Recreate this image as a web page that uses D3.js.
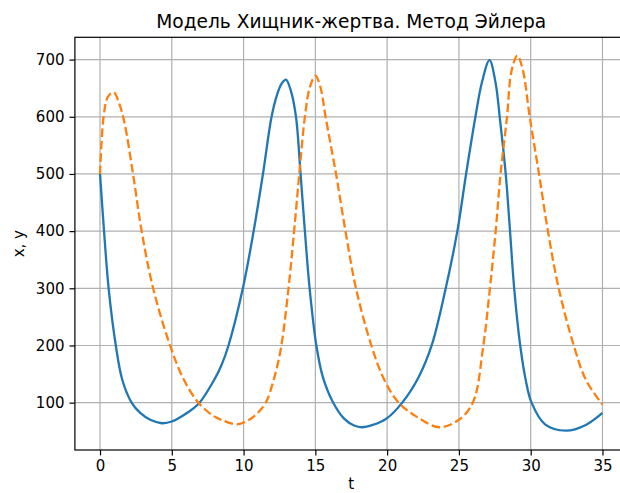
<!DOCTYPE html>
<html>
<head>
<meta charset="utf-8">
<script src="https://cdn.jsdelivr.net/npm/d3@7"></script>
<style>
  html, body { margin: 0; padding: 0; background: #fff; }
  svg { display: block; overflow: hidden; }
  text { font-family: "DejaVu Sans", sans-serif; fill: #000; }
</style>
</head>
<body>
<svg id="chart" width="620" height="493"></svg>
<script>
// prey (x) - solid blue
var tPrey = [0, 0.28, 0.6, 1.1, 1.55, 2.2, 2.8, 3.5, 4.3, 5, 6, 6.9, 8, 8.45, 8.95, 9.95,
  10.7, 11.35, 11.95, 12.35, 12.65, 12.95, 13.3, 13.65, 13.97, 14.27, 14.6, 15.07, 15.52, 16.2,
  17, 17.7, 18.23, 19, 20, 21.05, 22.2, 23.1, 24.08, 24.89, 25.5, 26.15, 26.6, 27.13,
  27.55, 27.84, 28.26, 28.56, 28.85, 29.27, 29.65, 30.06, 31, 32.45, 33.84, 35];
var xPrey = [500, 400, 300, 200, 140, 100, 82, 70, 64, 67, 81, 99, 142, 165, 200, 300,
  400, 500, 600, 640, 658, 665, 645, 600, 500, 400, 300, 200, 145, 102,
  72, 60, 57, 61, 73, 100, 145, 200, 300, 400, 500, 600, 660, 699,
  660, 600, 500, 400, 300, 200, 140, 100, 62, 51, 61, 82];

// predator (y) - dashed orange
var tPred = [0, 0.25, 0.55, 0.95, 1.35, 1.7, 2.3, 2.9, 3.7, 4.88, 5.84, 6.85, 7.83, 8.45,
  9.55, 10.5, 11.1, 11.6, 12.1, 12.6, 13.13, 13.52, 13.88, 14.27, 14.6, 15.0, 15.35, 15.71,
  16.44, 17.1, 17.83, 18.9, 19.8, 20.8, 22.02, 23.62, 25.05, 26.0, 26.7, 27.16, 27.56,
  27.9, 28.35, 28.67, 29.07, 29.45, 29.93, 30.58, 31.2, 31.95, 33.0, 33.84, 34.9, 35];
var yPred = [500, 600, 635, 643, 622, 590, 500, 400, 300, 200, 140, 100, 78, 70,
  62, 72, 85, 103, 140, 195, 300, 400, 500, 600, 650, 672, 652, 600,
  500, 400, 300, 200, 140, 100, 76, 57, 71, 102, 200, 300, 400,
  500, 600, 681, 707, 682, 600, 500, 400, 300, 200, 140, 100, 97];

var xTicks = [0, 5, 10, 15, 20, 25, 30, 35];
var yTicks = [100, 200, 300, 400, 500, 600, 700];

var title = "Модель Хищник-жертва. Метод Эйлера";
var xLabel = "t";
var yLabel = "x, y";

var plotLeft = 74.9, plotRight = 627.6, plotTop = 37.3, plotBottom = 450;

var svg = d3.select("#chart");

var xScale = d3.scaleLinear().domain([-1.75, 36.75]).range([plotLeft, plotRight]);
var yScale = d3.scaleLinear().domain([17.2, 739]).range([plotBottom, plotTop]);

// grid
svg.append("g")
    .selectAll("line")
    .data(xTicks)
    .enter().append("line")
    .attr("x1", function(d) { return xScale(d); })
    .attr("x2", function(d) { return xScale(d); })
    .attr("y1", plotTop)
    .attr("y2", plotBottom)
    .attr("stroke", "#b0b0b0")
    .attr("stroke-width", 1.2);

svg.append("g")
    .selectAll("line")
    .data(yTicks)
    .enter().append("line")
    .attr("x1", plotLeft)
    .attr("x2", plotRight)
    .attr("y1", function(d) { return yScale(d); })
    .attr("y2", function(d) { return yScale(d); })
    .attr("stroke", "#b0b0b0")
    .attr("stroke-width", 1.2);

var line = d3.line()
    .x(function(d) { return xScale(d[0]); })
    .y(function(d) { return yScale(d[1]); })
    .curve(d3.curveCatmullRom.alpha(0.5));

svg.append("path")
    .datum(d3.zip(tPrey, xPrey))
    .attr("d", line)
    .attr("fill", "none")
    .attr("stroke", "#1f77b4")
    .attr("stroke-width", 2.3);

svg.append("path")
    .datum(d3.zip(tPred, yPred))
    .attr("d", line)
    .attr("fill", "none")
    .attr("stroke", "#ff7f0e")
    .attr("stroke-width", 2.3)
    .attr("stroke-dasharray", "8.6,3.7");

// axes
var xAxis = d3.axisBottom(xScale).tickValues(xTicks).tickSizeOuter(0).tickSize(5.4).tickPadding(5);
var yAxis = d3.axisLeft(yScale).tickValues(yTicks).tickSizeOuter(0).tickSize(5.4).tickPadding(5);

var gx = svg.append("g").attr("transform", "translate(0," + plotBottom + ")").call(xAxis);
var gy = svg.append("g").attr("transform", "translate(" + plotLeft + ",0)").call(yAxis);

[gx, gy].forEach(function(g) {
    g.select(".domain").remove();
    g.selectAll(".tick line").attr("stroke", "#000").attr("stroke-width", 1.2);
    g.selectAll(".tick text")
        .style("font-family", "DejaVu Sans")
        .style("font-size", "15px")
        .attr("fill", "#000");
});

// spines
svg.append("rect")
    .attr("x", plotLeft)
    .attr("y", plotTop)
    .attr("width", plotRight - plotLeft)
    .attr("height", plotBottom - plotTop)
    .attr("fill", "none")
    .attr("stroke", "#000")
    .attr("stroke-width", 1.2);

svg.append("text")
    .attr("x", (plotLeft + plotRight) / 2)
    .attr("y", 28)
    .attr("text-anchor", "middle")
    .style("font-size", "18.6px")
    .text(title);

svg.append("text")
    .attr("x", (plotLeft + plotRight) / 2)
    .attr("y", 489)
    .attr("text-anchor", "middle")
    .style("font-size", "15px")
    .text(xLabel);

svg.append("text")
    .attr("transform", "translate(24," + ((plotTop + plotBottom) / 2) + ") rotate(-90)")
    .attr("text-anchor", "middle")
    .style("font-size", "15px")
    .text(yLabel);
</script>
</body>
</html>
